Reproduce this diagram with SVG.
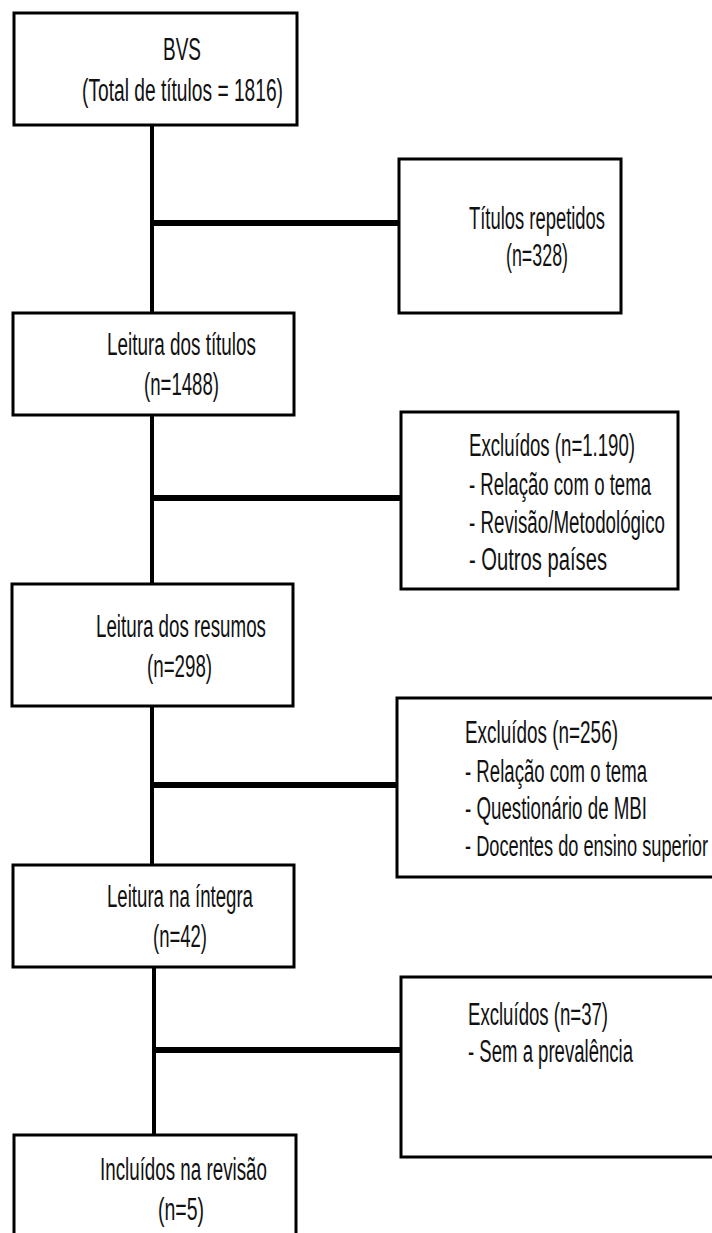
<svg xmlns="http://www.w3.org/2000/svg" width="712" height="1233" viewBox="0 0 712 1233">
<style>
.box{fill:#fff;stroke:#000;stroke-width:3}
.v{stroke:#000;stroke-width:4;fill:none}
.h{stroke:#000;stroke-width:6;fill:none}
text{font-family:"Liberation Sans",Arial,sans-serif;font-size:31px;fill:#111}
</style>
<rect width="712" height="1233" fill="#fff"/>
<g id="connectors">
<line class="v" x1="152" y1="125" x2="152" y2="313"/>
<line class="h" x1="150" y1="223" x2="399" y2="223"/>
<line class="v" x1="152" y1="415" x2="152" y2="584"/>
<line class="h" x1="150" y1="498" x2="401" y2="498"/>
<line class="v" x1="152" y1="706" x2="152" y2="865"/>
<line class="h" x1="150" y1="785" x2="397" y2="785"/>
<line class="v" x1="154" y1="967" x2="154" y2="1135"/>
<line class="h" x1="152" y1="1050" x2="401" y2="1050"/>
</g>
<g id="bvs">
<rect class="box" x="14" y="13" width="283" height="112"/>
<text transform="translate(163,60) scale(0.64,1)" textLength="59.4" lengthAdjust="spacingAndGlyphs">BVS</text>
<text transform="translate(82,101) scale(0.64,1)" textLength="314" lengthAdjust="spacingAndGlyphs">(Total de títulos = 1816)</text>
</g>
<g id="repetidos">
<rect class="box" x="399" y="159" width="222" height="154"/>
<text transform="translate(469,229) scale(0.64,1)" textLength="212.5" lengthAdjust="spacingAndGlyphs">Títulos repetidos</text>
<text transform="translate(506,266) scale(0.64,1)" textLength="96.9" lengthAdjust="spacingAndGlyphs">(n=328)</text>
</g>
<g id="titulos">
<rect class="box" x="13" y="313" width="281" height="102"/>
<text transform="translate(107,355) scale(0.64,1)" textLength="232.8" lengthAdjust="spacingAndGlyphs">Leitura dos títulos</text>
<text transform="translate(144,395) scale(0.64,1)" textLength="117.2" lengthAdjust="spacingAndGlyphs">(n=1488)</text>
</g>
<g id="excluidos1">
<rect class="box" x="401" y="412" width="277" height="177"/>
<text transform="translate(469,456) scale(0.64,1)" textLength="259.4" lengthAdjust="spacingAndGlyphs">Excluídos (n=1.190)</text>
<text transform="translate(469,495) scale(0.64,1)" textLength="284.4" lengthAdjust="spacingAndGlyphs">- Relação com o tema</text>
<text transform="translate(469,533) scale(0.64,1)" textLength="306.3" lengthAdjust="spacingAndGlyphs">- Revisão/Metodológico</text>
<text transform="translate(469,570) scale(0.64,1)" textLength="215.6" lengthAdjust="spacingAndGlyphs">- Outros países</text>
</g>
<g id="resumos">
<rect class="box" x="12" y="584" width="281" height="122"/>
<text transform="translate(96,637) scale(0.64,1)" textLength="265.6" lengthAdjust="spacingAndGlyphs">Leitura dos resumos</text>
<text transform="translate(147,677) scale(0.64,1)" textLength="101.6" lengthAdjust="spacingAndGlyphs">(n=298)</text>
</g>
<g id="excluidos2">
<rect class="box" x="397" y="698" width="330" height="179"/>
<text transform="translate(465,743) scale(0.64,1)" textLength="239" lengthAdjust="spacingAndGlyphs">Excluídos (n=256)</text>
<text transform="translate(465,782) scale(0.64,1)" textLength="284.4" lengthAdjust="spacingAndGlyphs">- Relação com o tema</text>
<text transform="translate(465,819) scale(0.64,1)" textLength="284.4" lengthAdjust="spacingAndGlyphs">- Questionário de MBI</text>
<text transform="translate(465,856) scale(0.6,1)" style="font-size:30px" textLength="405" lengthAdjust="spacingAndGlyphs">- Docentes do ensino superior</text>
</g>
<g id="integra">
<rect class="box" x="13" y="865" width="281" height="102"/>
<text transform="translate(107,907) scale(0.64,1)" textLength="228.1" lengthAdjust="spacingAndGlyphs">Leitura na íntegra</text>
<text transform="translate(153,947) scale(0.64,1)" textLength="84.4" lengthAdjust="spacingAndGlyphs">(n=42)</text>
</g>
<g id="excluidos3">
<rect class="box" x="401" y="977" width="330" height="180"/>
<text transform="translate(468,1025) scale(0.64,1)" textLength="218.8" lengthAdjust="spacingAndGlyphs">Excluídos (n=37)</text>
<text transform="translate(468,1062) scale(0.64,1)" textLength="257.8" lengthAdjust="spacingAndGlyphs">- Sem a prevalência</text>
</g>
<g id="incluidos">
<rect class="box" x="14" y="1135" width="282" height="120"/>
<text transform="translate(100,1180) scale(0.64,1)" textLength="260.9" lengthAdjust="spacingAndGlyphs">Incluídos na revisão</text>
<text transform="translate(158,1220) scale(0.64,1)" textLength="71.9" lengthAdjust="spacingAndGlyphs">(n=5)</text>
</g>
</svg>
